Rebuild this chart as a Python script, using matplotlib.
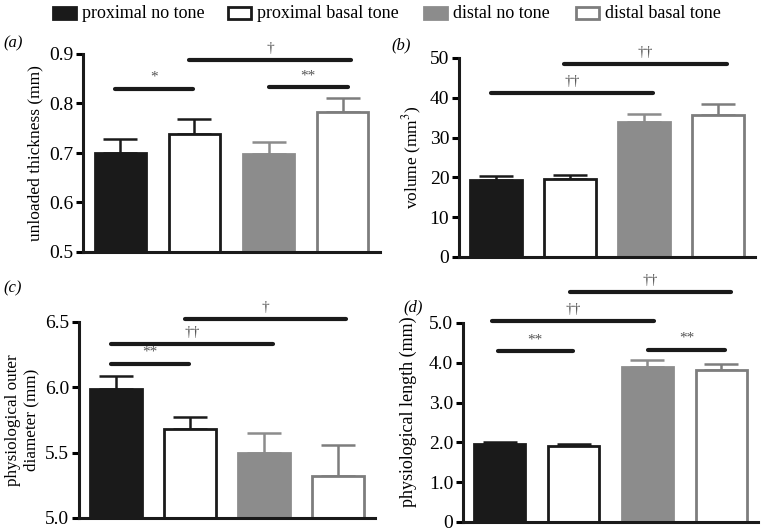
import matplotlib
matplotlib.use("Agg")
import matplotlib.pyplot as plt
from matplotlib.patches import Rectangle

plt.rcParams['font.family'] = ['Liberation Serif', 'DejaVu Serif']
plt.rcParams['mathtext.fontset'] = 'stix'

groups = ["proximal no tone", "proximal basal tone", "distal no tone", "distal basal tone"]

thick_mean = [0.700, 0.738, 0.697, 0.783]
thick_sem = [0.028, 0.030, 0.026, 0.029]
vol_mean = [19.3, 19.5, 33.9, 35.8]
vol_sem = [1.0, 1.2, 2.0, 2.6]
diam_mean = [5.99, 5.68, 5.50, 5.32]
diam_sem = [0.10, 0.095, 0.15, 0.24]
len_mean = [1.96, 1.91, 3.90, 3.83]
len_sem = [0.06, 0.06, 0.16, 0.14]

thick_sig = [(-0.07, 0.98, 0.830, "*"), (0.93, 3.11, 0.887, "†"), (2.0, 3.07, 0.833, "**")]
vol_sig = [(-0.07, 2.12, 41.2, "††"), (0.92, 3.12, 48.5, "††")]
diam_sig = [(-0.07, 0.98, 6.18, "**"), (-0.07, 2.12, 6.33, "††"), (0.93, 3.11, 6.523, "†")]
len_sig = [(-0.03, 0.99, 4.29, "**"), (2.01, 3.05, 4.33, "**"), (-0.11, 2.09, 5.04, "††"), (0.95, 3.13, 5.77, "††")]

BLACK = '#1a1a1a'
GRAY = '#8c8c8c'
GRAY_EDGE = '#7d7d7d'
faces = [BLACK, 'white', GRAY, 'white']
edges = [BLACK, BLACK, GRAY, GRAY_EDGE]

fig = plt.figure(figsize=(7.67, 5.32), dpi=100)

def panel(rect, means, sems, ylim, yticks, yticklabels, ylabel, ylsize, sigs, label, label_xy, ly=None):
    ax = fig.add_axes(rect)
    x = list(range(len(means)))
    for i in x:
        ax.bar(i, means[i], width=0.69, color=faces[i], edgecolor=edges[i], linewidth=2.0, zorder=2)
        ax.errorbar(i, means[i], yerr=[[0], [sems[i]]], color=edges[i], capsize=12,
                    elinewidth=1.8, capthick=1.8, zorder=1)
    ax.set_xlim(-0.5, 3.5)
    ax.set_ylim(*ylim)
    ax.set_yticks(yticks)
    ax.set_yticklabels(yticklabels, fontsize=14)
    ax.set_xticks([])
    for s in ['top', 'right']:
        ax.spines[s].set_visible(False)
    for s in ['left', 'bottom']:
        ax.spines[s].set_linewidth(2.2)
        ax.spines[s].set_color(BLACK)
    ax.tick_params(axis='y', direction='out', length=5, width=2.2, pad=2)
    ax.set_ylabel(ylabel, fontsize=ylsize, labelpad=4)
    if ly is not None:
        ax.yaxis.set_label_coords(ly[0], ly[1])
    span = ylim[1] - ylim[0]
    for x0, x1, y, t in sigs:
        ax.plot([x0, x1], [y, y], color=BLACK, linewidth=3, solid_capstyle='round', clip_on=False)
        ax.text((x0 + x1) / 2, y + span * 0.025, t, ha='center', va='bottom', fontsize=11,
                color='#555555', clip_on=False)
    fig.text(label_xy[0], label_xy[1], label, fontsize=12, style='italic', ha='left', va='center')
    return ax

W, H = 767.0, 532.0
def r(l, rr, top, bot):
    return [l / W, 1 - bot / H, (rr - l) / W, (bot - top) / H]

panel(r(83, 380, 54, 252), thick_mean, thick_sem, (0.5, 0.9), [0.5, 0.6, 0.7, 0.8, 0.9],
      ['0.5', '0.6', '0.7', '0.8', '0.9'], 'unloaded thickness (mm)', 12.5, thick_sig, '(a)', (3 / W, 1 - 43 / H))
panel(r(459, 755, 58, 257), vol_mean, vol_sem, (0, 50), [0, 10, 20, 30, 40, 50],
      ['0', '10', '20', '30', '40', '50'], 'volume (mm$^3$)', 12.5, vol_sig, '(b)', (391 / W, 1 - 45 / H))
panel(r(79, 375, 322, 518), diam_mean, diam_sem, (5.0, 6.5), [5.0, 5.5, 6.0, 6.5],
      ['5.0', '5.5', '6.0', '6.5'], 'physiological outer\ndiameter (mm)', 12.3, diam_sig, '(c)', (3 / W, 1 - 288 / H))
panel(r(463, 758, 323, 522), len_mean, len_sem, (0, 5.0), [0, 1, 2, 3, 4, 5],
      ['0', '1.0', '2.0', '3.0', '4.0', '5.0'], 'physiological length (mm)', 13, len_sig, '(d)', (403 / W, 1 - 307 / H),
      ly=(-0.155, 0.555))

# legend
leg_x = [53, 228, 424, 576]
for i, g in enumerate(groups):
    fig.patches.append(Rectangle((leg_x[i] / W, 1 - 19 / H), 23 / W, 12 / H, transform=fig.transFigure,
                                 facecolor=faces[i], edgecolor=edges[i], linewidth=2.0))
    fig.text((leg_x[i] + 29) / W, 1 - 13 / H, g, fontsize=13, ha='left', va='center')

fig.savefig('out.png', dpi=100)
